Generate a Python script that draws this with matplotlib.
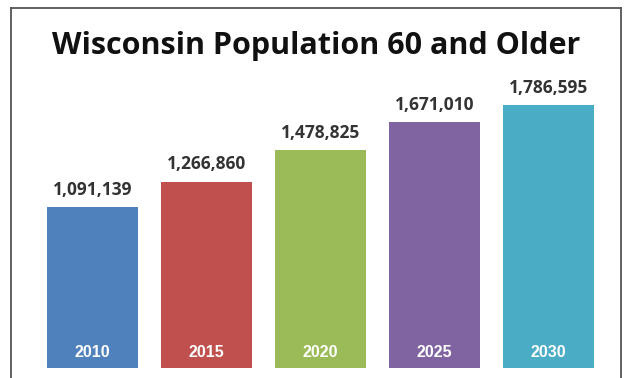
import matplotlib
matplotlib.use("Agg")
import matplotlib.pyplot as plt
from matplotlib.lines import Line2D

years = ["2010", "2015", "2020", "2025", "2030"]
population = [1091139, 1266860, 1478825, 1671010, 1786595]
colors = ["#4F81BD", "#C0504D", "#9BBB59", "#8064A2", "#4BACC6"]
title = "Wisconsin Population 60 and Older"

W, H = 633, 378
fig = plt.figure(figsize=(W / 100, H / 100), dpi=100)
fig.patch.set_facecolor("white")

# frame (left, top, right borders)
fx0, fx1, fy0 = 10.5 / W, 620.5 / W, 1 - 8 / H
for xs, ys in [([fx0, fx0], [0, fy0]), ([fx0, fx1], [fy0, fy0]), ([fx1, fx1], [fy0, 0])]:
    fig.add_artist(Line2D(xs, ys, transform=fig.transFigure, color="#555555", lw=1.3))

bottom_px, top_px = 368, 100
ax = fig.add_axes([35.5 / W, (H - bottom_px) / H, 570 / W, (bottom_px - top_px) / H])
ax.set_facecolor("none")
x = list(range(len(years)))
bars = ax.bar(x, population, width=0.807, color=colors)
ax.set_xlim(-0.5, len(years) - 0.5)
ax.set_ylim(0, 6795 * (bottom_px - top_px))
ax.axis("off")

for xi, v, yr in zip(x, population, years):
    ax.annotate(f"{v:,}", (xi, v), xytext=(0, 6), textcoords="offset points",
                ha="center", va="bottom", fontsize=12.5, fontweight="bold",
                color="#333333", family="Open Sans")
    ax.annotate(yr, (xi, 0), xytext=(0, 6), textcoords="offset points",
                ha="center", va="bottom", fontsize=11.5, fontweight="bold",
                color="white", family="Liberation Sans")

fig.text(0.5, 1 - 46 / H, title, ha="center", va="center", fontsize=22,
         fontweight="bold", family="Open Sans", color="#111111")

fig.savefig("out.png", dpi=100)
